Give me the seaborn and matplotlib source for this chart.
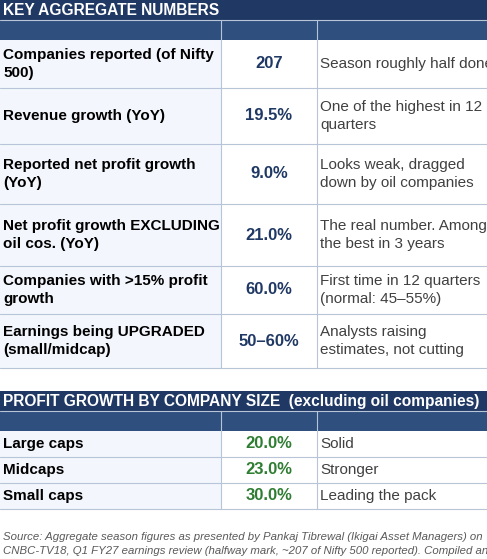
import matplotlib
matplotlib.use("Agg")
import matplotlib.pyplot as plt
from matplotlib.patches import Rectangle
import seaborn as sns

sns.set_style("white")
plt.rcParams['font.family'] = ['Liberation Sans', 'DejaVu Sans']

title1 = "KEY AGGREGATE NUMBERS"
metrics = ["Companies reported (of Nifty\n500)", "Revenue growth (YoY)",
           "Reported net profit growth\n(YoY)", "Net profit growth EXCLUDING\noil cos. (YoY)",
           "Companies with >15% profit\ngrowth", "Earnings being UPGRADED\n(small/midcap)"]
values = ["207", "19.5%", "9.0%", "21.0%", "60.0%", "50–60%"]
notes = ["Season roughly half done", "One of the highest in 12\nquarters",
         "Looks weak, dragged\ndown by oil companies", "The real number. Among\nthe best in 3 years",
         "First time in 12 quarters\n(normal: 45–55%)", "Analysts raising\nestimates, not cutting"]

title2 = "PROFIT GROWTH BY COMPANY SIZE  (excluding oil companies)"
sizes = ["Large caps", "Midcaps", "Small caps"]
size_values = ["20.0%", "23.0%", "30.0%"]
size_notes = ["Solid", "Stronger", "Leading the pack"]

source = ("Source: Aggregate season figures as presented by Pankaj Tibrewal (Ikigai Asset Managers) on\n"
          "CNBC-TV18, Q1 FY27 earnings review (halfway mark, ~207 of Nifty 500 reported). Compiled and")

W, H = 487, 559
fig = plt.figure(figsize=(W/100, H/100), dpi=100)
ax = fig.add_axes([0, 0, 1, 1])
ax.set_xlim(0, W); ax.set_ylim(H, 0); ax.axis('off')

DARK = "#203864"; HEAD = "#2f4f7f"; LIGHT = "#f3f6fc"; GRID = "#b8c4d8"
cols = [0, 221, 317, W]
NAVY = "#1f3864"; GREEN = "#2e7d32"; GREY = "#404040"

def section(y0, title, labels, vals, nts, heights, valcolor):
    ax.add_patch(Rectangle((0, y0), W, 20, color=DARK, lw=0))
    ax.text(3, y0 + 10.5, title, color="white", weight="bold", fontsize=11.2, va="center")
    ax.add_patch(Rectangle((0, y0 + 20), W, 20, color=HEAD, lw=0))
    for c in cols[1:3]:
        ax.plot([c, c], [y0 + 20, y0 + 40], color=GRID, lw=0.8)
    ax.plot([0, W], [y0 + 20, y0 + 20], color=GRID, lw=0.8)
    y = y0 + 40
    for lab, v, n, h in zip(labels, vals, nts, heights):
        ax.add_patch(Rectangle((0, y), cols[1], h, color=LIGHT, lw=0))
        ax.text(3, y + h/2, lab, weight="bold", fontsize=11, va="center", color="black", linespacing=1.3)
        ax.text((cols[1] + cols[2])/2, y + h/2, v, weight="bold", fontsize=12, va="center",
                ha="center", color=valcolor)
        ax.text(cols[2] + 3, y + h/2, n, fontsize=11, va="center", color=GREY, linespacing=1.3)
        y += h
        ax.plot([0, W], [y, y], color=GRID, lw=0.8)
    for c in cols[1:3]:
        ax.plot([c, c], [y0 + 40, y], color=GRID, lw=0.8)

section(0, title1, metrics, values, notes, [48, 56, 60, 62, 48, 54], NAVY)
section(391, title2, sizes, size_values, size_notes, [26, 26, 26], GREEN)
ax.text(3, 544, source, fontsize=8.2, style="italic", color="#595959", va="center", linespacing=1.5)

fig.savefig("out.png", dpi=100)
